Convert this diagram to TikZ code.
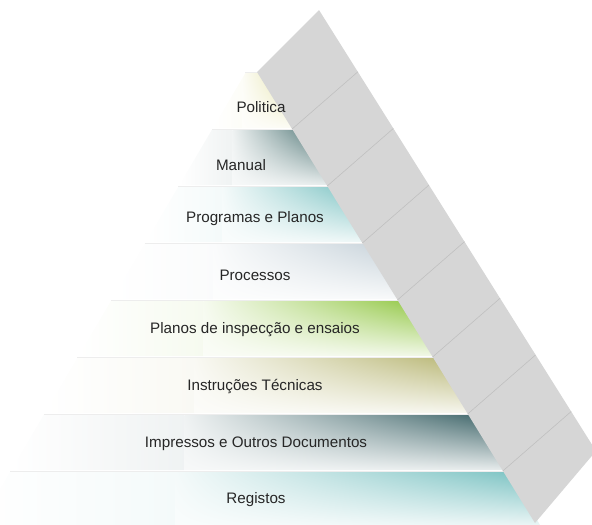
\documentclass[tikz,border=0pt]{standalone}
\usepackage{fontspec}
\setmainfont{Liberation Sans}
\usepackage{tikz}
\usetikzlibrary{calc, shadings}
\definecolor{politica}{RGB}{226, 224, 160}
\definecolor{manual}{RGB}{62, 104, 104}
\definecolor{programas}{RGB}{118, 192, 192}
\definecolor{processos}{RGB}{196, 208, 216}
\definecolor{inspeccao}{RGB}{140, 196, 58}
\definecolor{instrucoes}{RGB}{182, 180, 112}
\definecolor{impressos}{RGB}{56, 96, 100}
\definecolor{registos}{RGB}{118, 192, 192}
\definecolor{strip}{RGB}{214, 214, 214}
\definecolor{stripline}{RGB}{192, 192, 192}

\begin{document}
\begin{tikzpicture}[x=1pt, y=-1pt,
    level/.style={font=\fontsize{15.2}{18}\selectfont, text=black!85, inner sep=0pt}]

  \useasboundingbox (0, 0) rectangle (592, 525);
  \clip (0, 0) rectangle (592, 525);

  % bands of the pyramid
  \foreach \i/\c in {0/politica, 1/manual, 2/programas, 3/processos,
                     4/inspeccao, 5/instrucoes, 6/impressos, 7/registos} {
    \pgfmathsetmacro\ya{72 + 57 * \i + 1}
    \pgfmathsetmacro\yb{72 + 57 * (\i + 1) - 1}
    \pgfmathsetmacro\xla{246 - 0.59 * (\ya - 72)}
    \pgfmathsetmacro\xlb{246 - 0.59 * (\yb - 72)}
    \pgfmathsetmacro\xra{257 + 0.616 * (\ya - 72) + 4}
    \pgfmathsetmacro\xrb{257 + 0.616 * (\yb - 72) + 4}
    \pgfmathsetmacro\xs{\xlb + 0.35 * (\xrb - \xlb)}
    \begin{scope}
      \clip (\xla, \ya) -- (\xra, \ya) -- (\xrb, \yb) -- (\xlb, \yb) -- cycle;
      \shade[left color=white, right color=\c!8] (\xlb, \ya) rectangle (\xs, \yb);
      \shade[upper left=\c!8, upper right=\c, lower left=\c!4, lower right=\c!12]
        (\xs, \ya) rectangle (\xrb, \yb);
    \end{scope}
    \draw[black!7, line width=0.5pt] (\xla, \ya - 1) -- (\xra, \ya - 1);
  }

  % slanted strip
  \fill[strip] (257, 72) -- (319, 10) -- (596, 451) -- (535, 523) -- cycle;
  \foreach \y in {129, 186, 243, 300, 357, 414, 471} {
    \pgfmathsetmacro\xl{257 + 0.616 * (\y - 72)}
    \pgfmathsetmacro\w{(100.1 + 0.012 * \y) / (1 + 0.628 * 0.87)}
    \draw[stripline, line width=0.6pt] (\xl, \y) -- ++(\w, -0.87 * \w);
  }

  % labels
  \node[level] (politica)  at (261, 107) {Politica};
  \node[level] (manual)    at (241, 165) {Manual};
  \node[level] (programas) at (255, 219) {Programas e Planos};
  \node[level] (processos) at (255, 275) {Processos};
  \node[level] (inspeccao) at (255, 330) {Planos de inspecção e ensaios};
  \node[level] (instrucoes) at (255, 387) {Instruções Técnicas};
  \node[level] (impressos) at (256, 444) {Impressos e Outros Documentos};
  \node[level] (registos)  at (256, 500) {Registos};
\end{tikzpicture}
\end{document}
